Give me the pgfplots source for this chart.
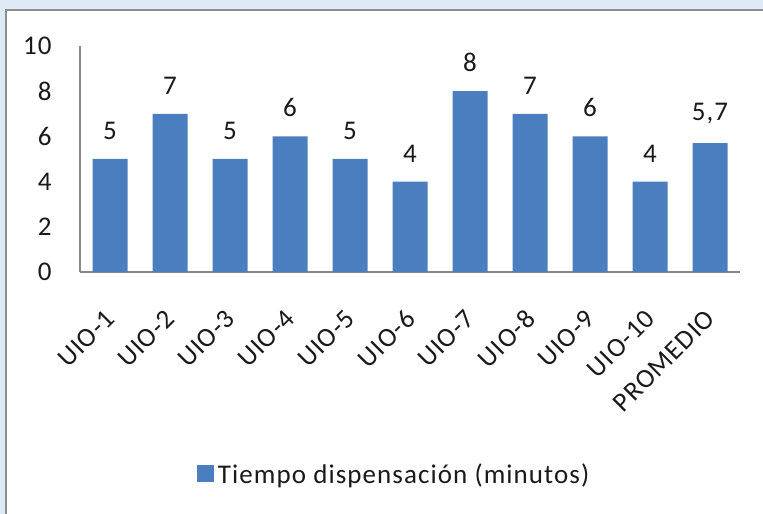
\documentclass[border=0pt]{standalone}
\usepackage{fontspec}
\setmainfont{Carlito}[LetterSpace=4]
\usepackage{pgfplots}
\pgfplotsset{compat=1.18}
\definecolor{barblue}{HTML}{4A7EBF}
\definecolor{bgblue}{HTML}{DFEAF6}
\definecolor{framegray}{HTML}{8E8E8E}
\definecolor{axisgray}{HTML}{888888}
\definecolor{txt}{HTML}{1A1A1A}
\begin{document}
\begin{tikzpicture}[x=1pt,y=1pt]
\useasboundingbox (0,0) rectangle (763,514);
\fill[bgblue] (0,0) rectangle (763,514);
\fill[white] (6,0) rectangle (763,504);
\draw[framegray, line width=1.8pt] (6,0) -- (6,504) -- (763,504);
\begin{axis}[
  at={(80pt,242pt)}, anchor=south west,
  scale only axis, width=660pt, height=226pt,
  clip=false,
  xmin=-0.5, xmax=10.5, ymin=0, ymax=10,
  ytick={0,2,...,10},
  xtick={0,...,10},
  xticklabels={UIO-1,UIO-2,UIO-3,UIO-4,UIO-5,UIO-6,UIO-7,UIO-8,UIO-9,UIO-10,PROMEDIO},
  axis x line*=bottom, axis y line*=left,
  axis line style={axisgray, line width=1.2pt, -},
  major tick length=0pt,
  tick label style={font=\fontsize{27}{30}\selectfont, text=txt},
  /pgf/number format/assume math mode=true,
  /pgf/number format/use comma,
  yticklabel style={anchor=east, xshift=-25pt},
  xticklabel style={xshift=3pt, yshift=-40pt, rotate=45, anchor=east},
  ybar, bar width=35pt,
  nodes near coords,
  every node near coord/.append style={font=\fontsize{27}{30}\selectfont, text=txt, yshift=16pt},
  legend style={draw=none, fill=none, at={(0.476,-0.895)}, anchor=center,
    font=\fontsize{27}{30}\selectfont, text=txt, inner sep=0pt},
  legend image code/.code={\fill[barblue] (0pt,-8pt) rectangle (17pt,9pt);},
  legend style={/tikz/every even column/.append style={column sep=0pt}},
]
\addplot[fill=barblue, draw=none] coordinates {
(0,5) (1,7) (2,5) (3,6) (4,5) (5,4) (6,8) (7,7) (8,6) (9,4) (10,5.7)};
\addlegendentry{\hspace{2pt}Tiempo dispensación (minutos)}
\end{axis}
\end{tikzpicture}
\end{document}
